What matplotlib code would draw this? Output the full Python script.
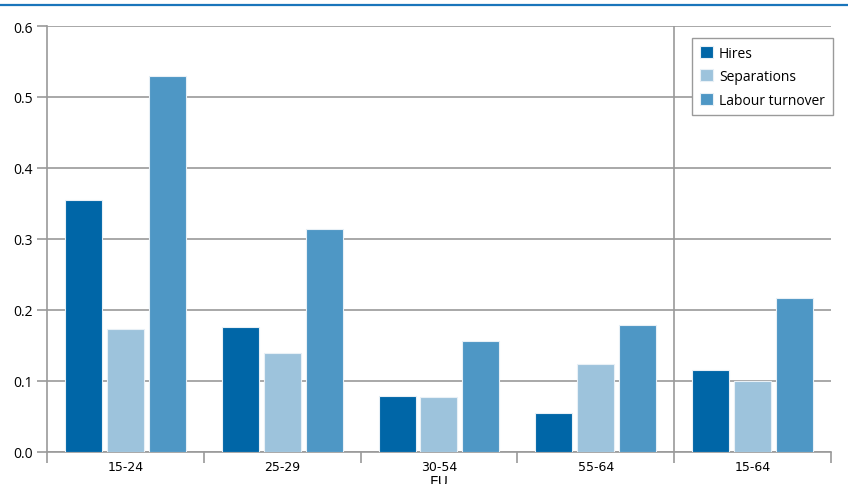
import numpy as np
import matplotlib
matplotlib.use("Agg")
from matplotlib import pyplot as plt
from matplotlib.lines import Line2D

# data
groups = ["15-24", "25-29", "30-54", "55-64", "15-64"]
hires = [0.355, 0.176, 0.078, 0.054, 0.115]
separations = [0.173, 0.139, 0.077, 0.124, 0.100]
turnover = [0.529, 0.314, 0.156, 0.178, 0.216]
series_names = ["Hires", "Separations", "Labour turnover"]
colors = ["#0066a7", "#9dc3dc", "#4e97c5"]

GRID = "#9a9a9a"

fig = plt.figure(figsize=(8.48, 4.85), dpi=100)
ax = fig.add_axes([0.0554, 0.0666, 0.9245, 0.8777])

# blue rule under the (cropped) title
fig.add_artist(Line2D([0, 1], [0.9875, 0.9875], transform=fig.transFigure,
                      color="#1a75bb", lw=1.6))

x = np.arange(len(groups))
step = 0.267
width = 0.236
for i, (vals, name) in enumerate(zip([hires, separations, turnover], series_names)):
    ax.bar(x + (i - 1) * step, vals, width, color=colors[i], label=name,
           edgecolor="#e8f0f6", linewidth=0.8, zorder=3)

ax.set_xlim(-0.5, 4.5)
ax.set_ylim(0, 0.6)
ax.set_yticks(np.arange(0, 0.61, 0.1))
ax.set_yticklabels([f"{v:.1f}" for v in np.arange(0, 0.61, 0.1)],
                   family=["Open Sans", "DejaVu Sans"], fontsize=10)
ax.yaxis.grid(True, color=GRID, lw=1.2, zorder=1)
ax.tick_params(axis="y", length=7, width=1.2, color=GRID, pad=3)

ax.set_xticks(x)
ax.set_xticklabels(groups, family=["Liberation Sans Narrow", "DejaVu Sans"], fontsize=9)
ax.set_xticks(np.arange(-0.5, 4.6, 1), minor=True)
ax.tick_params(axis="x", which="major", length=0, pad=6)
ax.tick_params(axis="x", which="minor", length=8, width=1.2, color=GRID)
ax.set_xlabel("EU", family=["Liberation Sans Narrow", "DejaVu Sans"], fontsize=10, labelpad=1)

ax.axvline(3.5, color=GRID, lw=1.2, zorder=2)

for side in ["top", "right"]:
    ax.spines[side].set_visible(False)
for side in ["left", "bottom"]:
    ax.spines[side].set_color(GRID)
    ax.spines[side].set_linewidth(1.2)

leg = ax.legend(loc="upper right", bbox_to_anchor=(1.002, 0.972), fancybox=False,
                framealpha=1, edgecolor=GRID, handlelength=0.95, handleheight=0.95,
                handletextpad=0.45, borderpad=0.55, labelspacing=0.62,
                borderaxespad=0.0,
                prop={"family": ["Open Sans", "DejaVu Sans"], "size": 10})
leg.get_frame().set_linewidth(1.0)

fig.savefig("out.png", dpi=100)
